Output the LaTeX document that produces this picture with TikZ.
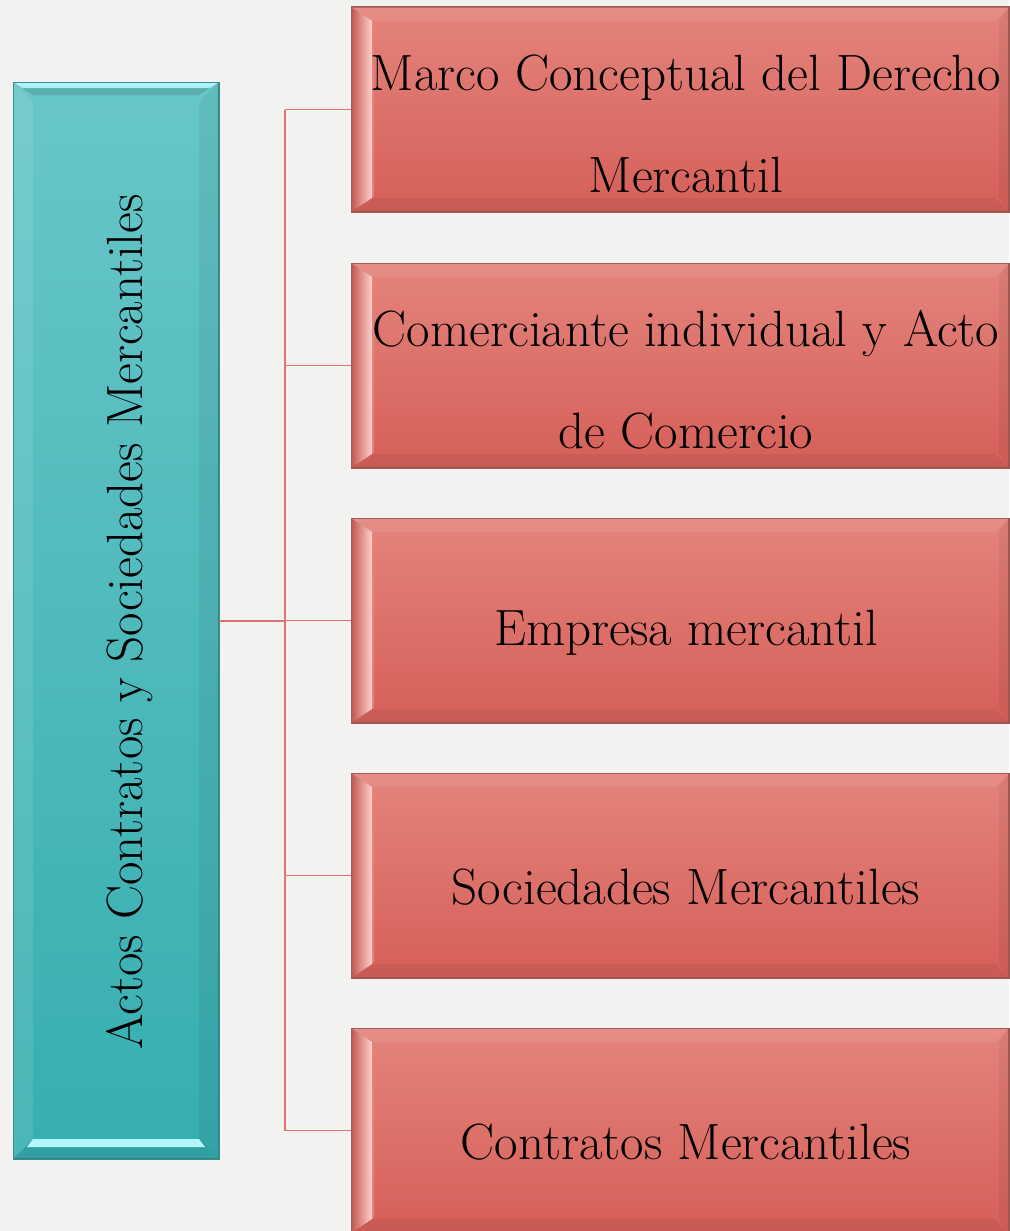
\documentclass[tikz,border=0pt]{standalone}
\usetikzlibrary{calc}
\definecolor{bg}{HTML}{F2F2F0}
\definecolor{redtop}{HTML}{E3847C}
\definecolor{redbot}{HTML}{D65F59}
\definecolor{redborder}{HTML}{A65A58}
\definecolor{redlight}{HTML}{FFD0CC}
\definecolor{tealtop}{HTML}{68C6C8}
\definecolor{tealbot}{HTML}{36AEB0}
\definecolor{tealborder}{HTML}{3A8C8E}
\definecolor{teallight}{HTML}{B2F6FA}
\definecolor{linkcol}{HTML}{E07272}
\begin{document}
\begin{tikzpicture}[x=1pt,y=-1pt,
  redbox/.style={draw=redborder, line width=1pt, top color=redtop, bottom color=redbot,
    minimum width=657pt, minimum height=204pt, inner sep=0pt, anchor=north west},
  tealbox/.style={draw=tealborder, line width=1pt, top color=tealtop, bottom color=tealbot,
    minimum width=205pt, minimum height=1076pt, inner sep=0pt, anchor=north west},
  boxtext/.style={font=\fontsize{51}{102}\selectfont, align=center, inner sep=0pt, text=black},
  link/.style={draw=linkcol, line width=1.8pt},
  trunk/.style={draw=linkcol, line width=2.6pt}]
\useasboundingbox (0,0) rectangle (1009,1231);
\fill[bg] (0,0) rectangle (1009,1231);

% root box
\node[tealbox] (root) at (13,82) {};
% teal bevels
\fill[white,opacity=0.10] (root.north west) -- (root.south west) -- ($(root.south west)+(20,-20)$) -- ($(root.north west)+(20,20)$) -- cycle;
\fill[black,opacity=0.06] (root.north east) -- (root.south east) -- ($(root.south east)+(-20,-20)$) -- ($(root.north east)+(-20,20)$) -- cycle;
\fill[tealtop!88!black] (root.north west) -- (root.north east) -- ($(root.north east)+(-20,13)$) -- ($(root.north west)+(20,13)$) -- cycle;
\shade[top color=teallight, bottom color=teallight!80!tealtop] (root.north west) -- (root.north east) -- ($(root.north east)+(-9,6)$) -- ($(root.north west)+(9,6)$) -- cycle;
\fill[black,opacity=0.08] (root.south west) -- (root.south east) -- ($(root.south east)+(-20,-20)$) -- ($(root.south west)+(20,-20)$) -- cycle;
\fill[teallight] ($(root.south west)+(14,-12)$) -- ($(root.south east)+(-14,-12)$) -- ($(root.south east)+(-20,-20)$) -- ($(root.south west)+(20,-20)$) -- cycle;
\draw[tealborder, line width=1pt] (root.north west) rectangle (root.south east);
\node[rotate=90, boxtext] (roottext) at (130,622) {Actos Contratos y Sociedades Mercantiles};

% child boxes
\foreach \i/\y/\t/\dy in {1/7/{Marco Conceptual del Derecho\\Mercantil}/14,
                      2/263/{Comerciante individual y Acto\\de Comercio}/14,
                      3/518/{Empresa mercantil}/12,
                      4/773/{Sociedades Mercantiles}/12,
                      5/1028/{Contratos Mercantiles}/12}{
  \node[redbox] (b\i) at (351,\y) {};
  \fill[white,opacity=0.08] (b\i.north west) -- (b\i.north east) -- ($(b\i.north east)+(-14,14)$) -- ($(b\i.north west)+(14,14)$) -- cycle;
  \fill[black,opacity=0.06] (b\i.south west) -- (b\i.south east) -- ($(b\i.south east)+(-14,-14)$) -- ($(b\i.south west)+(14,-14)$) -- cycle;
  \fill[black,opacity=0.05] (b\i.north east) -- (b\i.south east) -- ($(b\i.south east)+(-10,-14)$) -- ($(b\i.north east)+(-10,14)$) -- cycle;
  \shade[left color=redbot!90!black, right color=redlight] (b\i.north west) -- ($(b\i.north west)+(21,14)$) -- ($(b\i.south west)+(21,-14)$) -- (b\i.south west) -- cycle;
  \fill[redtop] ($(b\i.north west)+(21,14)$) -- ($(b\i.north west)+(23,16)$) -- ($(b\i.south west)+(23,-16)$) -- ($(b\i.south west)+(21,-14)$) -- cycle;
  \draw[redborder, line width=1pt] (b\i.north west) rectangle (b\i.south east);
  \node[boxtext] (t\i) at ($(b\i.center)+(6,\dy)$) {\t};
}

% connectors
\coordinate (j) at (285,621);
\draw[trunk] (root.east |- j) -- (j);
\draw[trunk] (j |- b1.west) -- (j |- b5.west);
\foreach \i in {1,...,5}{
  \draw[link] (j |- b\i.west) -- (b\i.west);
}
\end{tikzpicture}
\end{document}
